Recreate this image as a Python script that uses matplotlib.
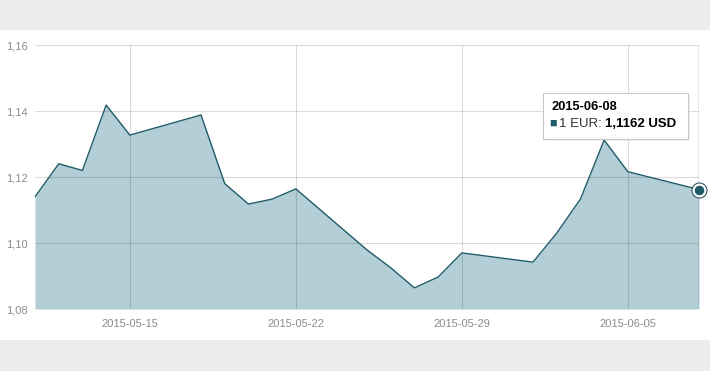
import numpy as np
import matplotlib
matplotlib.use('Agg')
import matplotlib.pyplot as plt
import matplotlib.dates as mdates
from matplotlib.patches import Rectangle

plt.rcParams['font.family'] = ['Liberation Sans', 'DejaVu Sans']

# EUR/USD daily rates (weekdays only)
dates = ['2015-05-11', '2015-05-12', '2015-05-13', '2015-05-14', '2015-05-15',
         '2015-05-18', '2015-05-19', '2015-05-20', '2015-05-21', '2015-05-22',
         '2015-05-25', '2015-05-26', '2015-05-27', '2015-05-28', '2015-05-29',
         '2015-06-01', '2015-06-02', '2015-06-03', '2015-06-04', '2015-06-05',
         '2015-06-08']
rates = [1.1140, 1.1240, 1.1220, 1.1418, 1.1327,
         1.1388, 1.1180, 1.1118, 1.1133, 1.1164,
         1.0979, 1.0925, 1.0864, 1.0897, 1.0970,
         1.0942, 1.1030, 1.1133, 1.1312, 1.1216,
         1.1162]
x_ticks = ['2015-05-15', '2015-05-22', '2015-05-29', '2015-06-05']
y_ticks = [1.08, 1.10, 1.12, 1.14, 1.16]
y_labels = ['1,08', '1,10', '1,12', '1,14', '1,16']
tip_date = '2015-06-08'
tip_value = '1,1162 USD'

line_c = '#1f5c68'
fill_c = '#b3ced6'
label_c = '#8c8c8c'

xs = mdates.datestr2num(dates)
xt = mdates.datestr2num(x_ticks)

fig = plt.figure(figsize=(7.1, 3.71), dpi=100)
fig.patch.set_facecolor('#ececec')
# white panel behind the chart
fig.patches.append(Rectangle((0, 0.0836), 1, 0.8355, transform=fig.transFigure,
                             facecolor='white', edgecolor='none', zorder=-5))

ax = fig.add_axes([0.0493, 0.1671, 0.9352, 0.7116])
ax.set_facecolor('none')
ax.fill_between(xs, rates, 1.08, color=fill_c, lw=0, zorder=1)
ax.plot(xs, rates, color=line_c, lw=1.0, zorder=3)

# hover crosshair + marker on last point
ax.axvline(xs[-1], color=line_c, lw=0.9, zorder=2)
ax.plot(xs[-1], rates[-1], 'o', ms=11.5, mfc='#143f48', mec='none', zorder=4, clip_on=False)
ax.plot(xs[-1], rates[-1], 'o', ms=8.5, mfc=line_c, mec='white', mew=1.6, zorder=5, clip_on=False)

ax.set_xlim(xs[0], xs[-1])
ax.set_ylim(1.08, 1.16)
ax.set_xticks(xt)
ax.set_xticklabels(x_ticks)
ax.set_yticks(y_ticks)
ax.set_yticklabels(y_labels)
ax.tick_params(length=0, colors=label_c, labelsize=8)
ax.tick_params(axis='x', pad=7)
ax.tick_params(axis='y', pad=5)
ax.grid(True, color='black', alpha=0.14, lw=0.8, zorder=2)
ax.set_axisbelow(False)
for s in ax.spines.values():
    s.set_visible(False)

# tooltip
W, H = 710.0, 371.0
def fx(px):
    return px / W
def fy(py):
    return 1 - py / H

fig.patches.append(Rectangle((fx(545), fy(141)), fx(145), 46 / H, transform=fig.transFigure,
                             facecolor='#000000', alpha=0.06, edgecolor='none', zorder=6))
fig.patches.append(Rectangle((fx(543), fy(139)), fx(145), 46 / H, transform=fig.transFigure,
                             facecolor='white', edgecolor='#c8c8c8', lw=0.8, zorder=7))
fig.text(fx(551), fy(107), tip_date, fontsize=9.3, fontweight='bold', color='black',
         va='center', ha='left', zorder=8)
fig.text(fx(549), fy(123.5), '\u25a0', fontsize=9, color=line_c, va='center', ha='left', zorder=8)
t1 = fig.text(fx(559), fy(124), '1 EUR: ', fontsize=9.5, color='#333333', va='center', ha='left', zorder=8)
fig.canvas.draw()
bb = t1.get_window_extent(fig.canvas.get_renderer())
fig.text(bb.x1 / W, fy(124), tip_value, fontsize=9.5, fontweight='bold', color='black',
         va='center', ha='left', zorder=8)

fig.savefig('out.png', dpi=100, facecolor=fig.get_facecolor())
